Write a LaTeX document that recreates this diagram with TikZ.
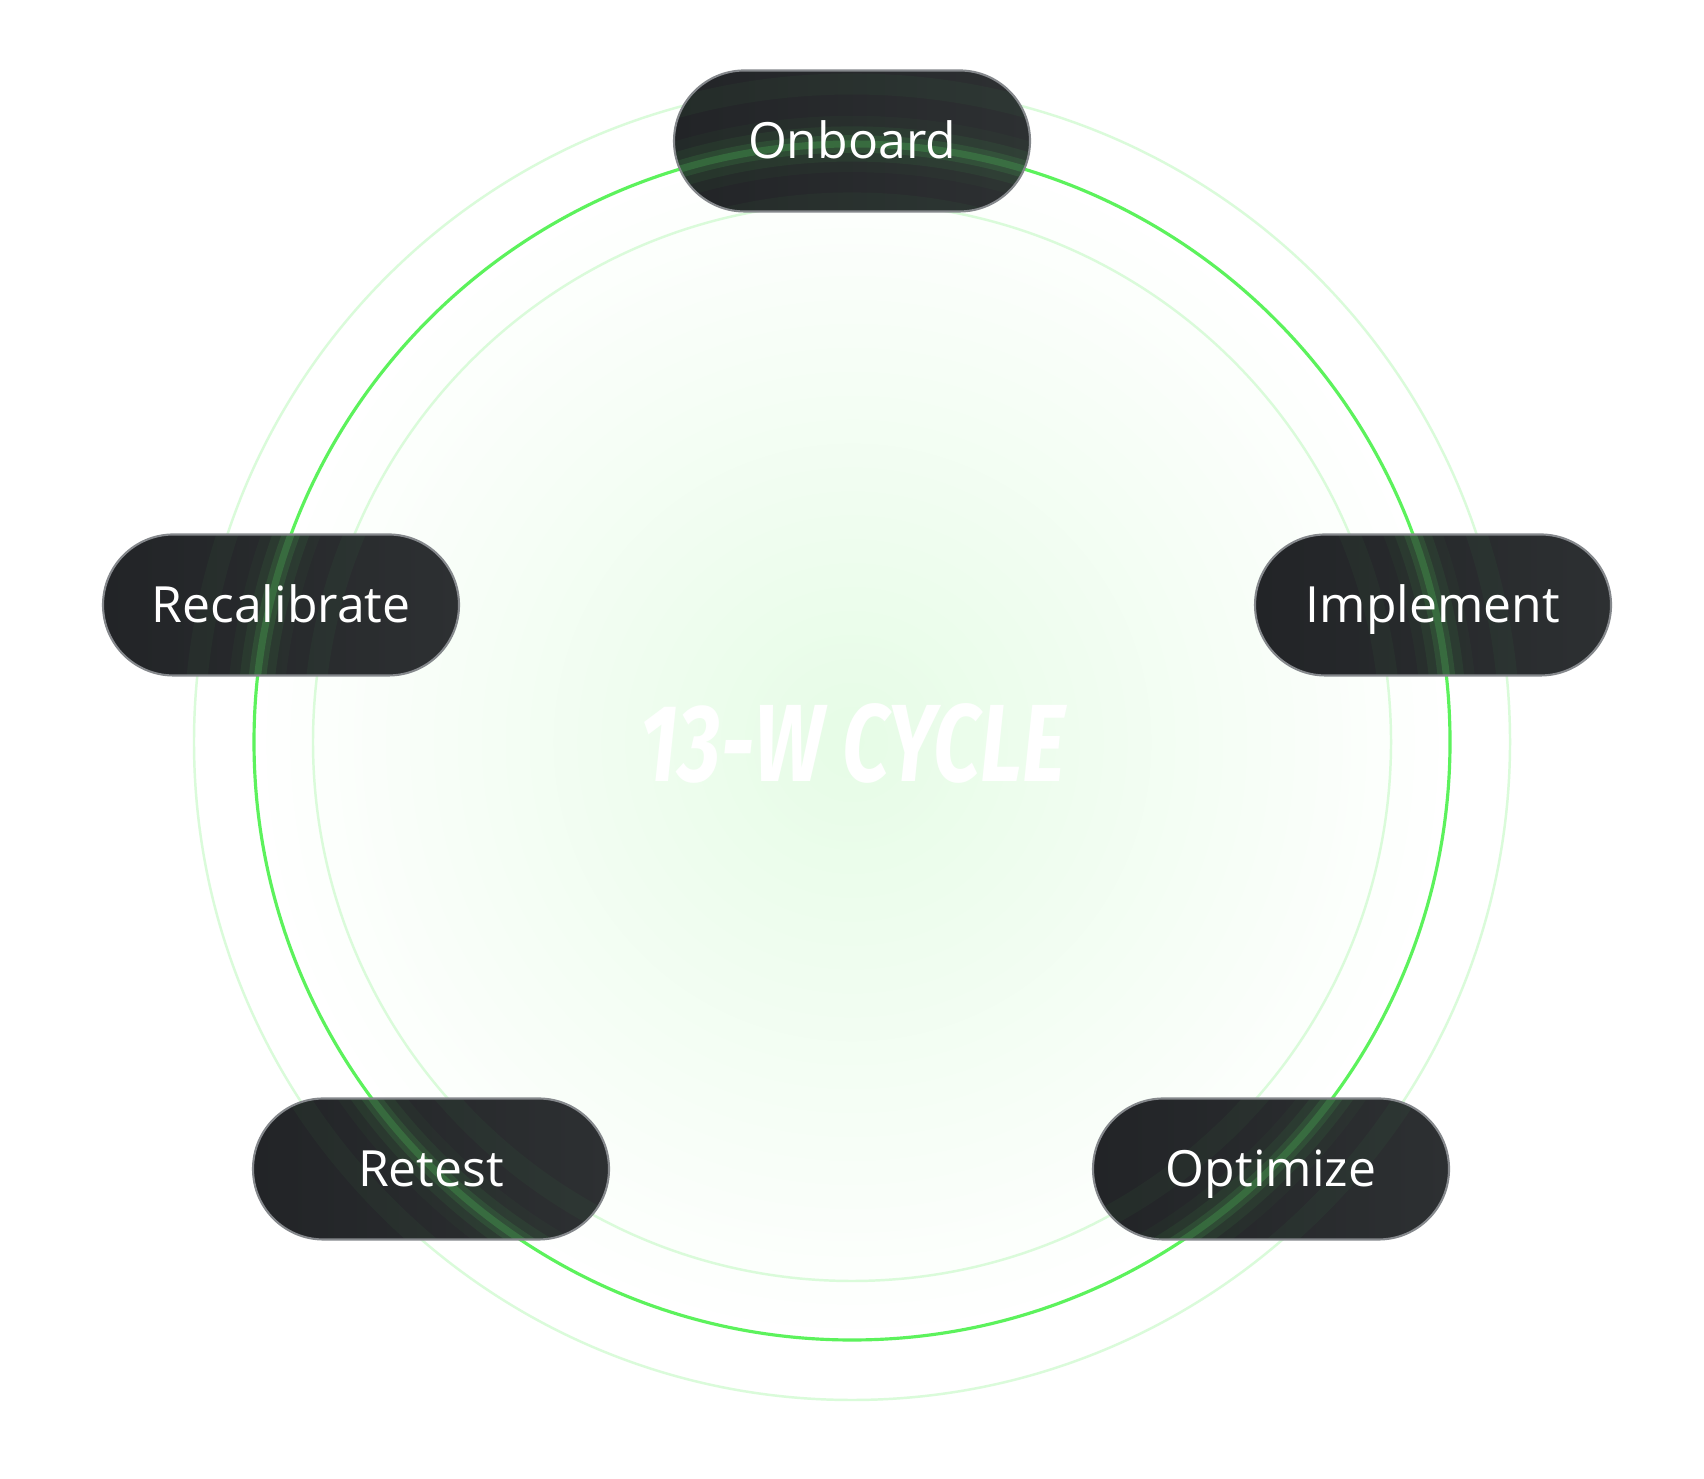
\documentclass[tikz,border=0pt]{standalone}
\usepackage{fontspec}
\setmainfont{Open Sans}
\newfontfamily\cyclefont{Fira Sans}

\definecolor{ringgreen}{HTML}{5CF25C}
\definecolor{ringpale}{HTML}{DAFBDA}
\definecolor{hazegreen}{HTML}{E6FCE6}
\definecolor{pilldark}{HTML}{222427}
\definecolor{pillmid}{HTML}{2D3032}
\definecolor{pillrim}{HTML}{85888C}
\definecolor{glowgreen}{HTML}{4FC25A}

\begin{document}
\begin{tikzpicture}[
    stage/.style={draw=pillrim, line width=0.6pt, rounded corners=0.705cm,
        minimum width=3.56cm, minimum height=1.41cm,
        left color=pilldark, right color=pillmid, text=white,
        font=\fontsize{14.2}{16}\selectfont, text height=10.1pt, text depth=0pt,
        path picture={
            \foreach \w/\o in {16/0.04, 10/0.08, 5/0.14, 2/0.26}
                \draw[glowgreen, line width=\w pt, opacity=\o] (hub) circle (5.98cm);
            \draw[glowgreen, line width=6pt, opacity=0.05] (hub) circle (5.39cm);
            \draw[glowgreen, line width=6pt, opacity=0.05] (hub) circle (6.58cm);
        }},
    ring/.style={ringpale, line width=0.7pt}
]
    % Rahmen
    \fill[white] (0,0) rectangle (17.04,14.79);
    \useasboundingbox (0,0) rectangle (17.04,14.79);
    \coordinate (hub) at (8.52,7.37);

    % Kreise
    \fill[inner color=hazegreen, outer color=white] (hub) circle (5.98cm);
    \draw[ring] (hub) circle (6.58cm);
    \draw[ring] (hub) circle (5.39cm);
    \draw[ringgreen, line width=0.9pt] (hub) circle (5.98cm);

    \node[inner sep=0pt, text=white] (title) at (8.53,7.36)
        {\resizebox{4.24cm}{0.78cm}{\cyclefont\bfseries\itshape 13-W CYCLE}};

    % Stufen
    \node[stage] (onboard) at (8.52,13.38) {Onboard};
    \node[stage] (implement) at (14.33,8.74) {Implement};
    \node[stage] (optimize) at (12.71,3.10) {Optimize};
    \node[stage] (retest) at (4.31,3.10) {Retest};
    \node[stage] (recal) at (2.81,8.74) {Recalibrate};
\end{tikzpicture}
\end{document}
